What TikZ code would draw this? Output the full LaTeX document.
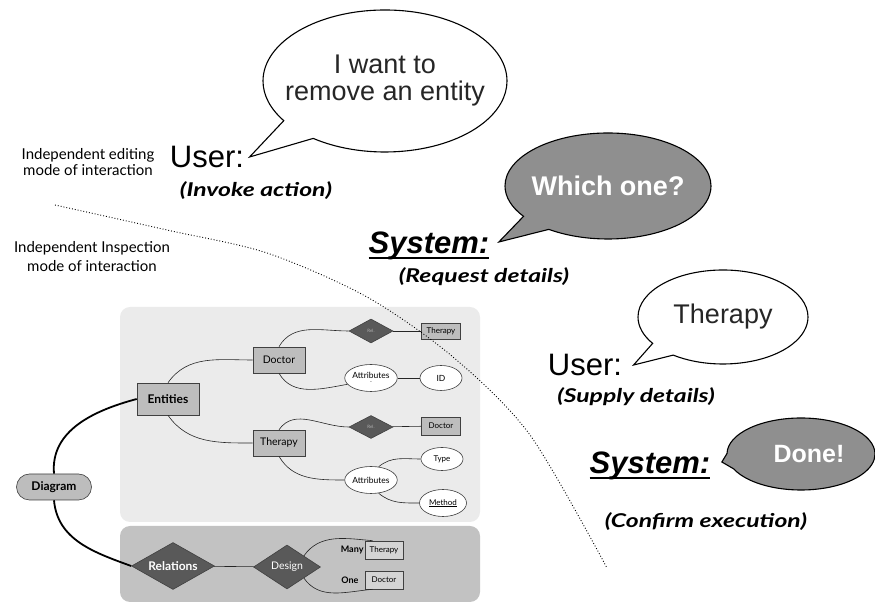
\documentclass[tikz,border=0pt]{standalone}
\usepackage{xcolor}
\usepackage{tikz}
\usepackage{fontspec}
\setmainfont{Lato}
\newfontfamily\helv{Liberation Sans}
\newfontfamily\notefont[FakeStretch=1.3]{Lato}
\usetikzlibrary{shapes.geometric, shapes.callouts, positioning}

% underline at a given depth and thickness
\newcommand{\lineunder}[3]{\setbox0\hbox{#3}\rlap{\rule[-#1]{\wd0}{#2}}\box0}

\begin{document}
\begin{tikzpicture}[x=1pt, y=1pt,
    entity/.style={draw=black!75, line width=0.6pt, rectangle, fill=black!26, inner sep=0pt},
    rel/.style={draw=black!75, line width=0.6pt, diamond, aspect=1.8, fill=black!65, inner sep=0pt},
    attr/.style={draw=black!75, line width=0.6pt, ellipse, fill=white, inner sep=0pt},
    bubble/.style={draw, line width=1.1pt, ellipse callout, inner sep=0pt, callout pointer arc=20},
    talk/.style={font=\helv\fontsize{31}{31}\selectfont},
    note/.style={font=\notefont\fontsize{19}{19}\selectfont\bfseries\itshape},
    side/.style={font=\fontsize{15}{16}\selectfont, align=center},
    link/.style={draw=black!85, line width=0.6pt},
    trunk/.style={draw=black, line width=1.8pt}]
    \useasboundingbox (0,0) rectangle (875,612);

    % Panels
    \fill[black!8, rounded corners=10pt] (120,90) rectangle (480,305);
    \fill[black!24, rounded corners=10pt] (120,10) rectangle (480,86);

    % Modes
    \node[side] (editmode) at (88,450) {Independent editing\\mode of interaction};
    \node[side, font=\fontsize{15}{19}\selectfont] (inspmode) at (92,355) {Independent Inspection\\mode of interaction};

    % User: invoke
    \node[talk] (user1) at (207,455) {User:};
    \node[note] (act1) at (256,421) {(Invoke action)};
    \node[bubble, fill=white, minimum width=244, minimum height=142, inner xsep=-16pt, align=center,
          font=\helv\fontsize{27}{27}\selectfont, text=black!85,
          callout absolute pointer={([xshift=2pt]user1.east)}] (say1) at (385,531) {I want to\\remove an entity};

    % System: request
    \node[talk, font=\helv\fontsize{31}{31}\selectfont\bfseries\itshape] (sys1) at (429,366) {\lineunder{5pt}{1.5pt}{System:}};
    \node[note] (act2) at (484,335) {(Request details)};
    \node[bubble, fill=black!44, minimum width=206, minimum height=106, inner xsep=-6pt,
          font=\helv\fontsize{27}{27}\selectfont\bfseries, text=white,
          callout absolute pointer={([xshift=6pt,yshift=4pt]sys1.east)}] (say2) at (608,426) {Which one?};

    % User: supply
    \node[talk] (user2) at (585,247) {User:};
    \node[note] (act3) at (636,215) {(Supply details)};
    \node[bubble, fill=white, minimum width=170, minimum height=94,
          font=\helv\fontsize{27}{27}\selectfont, text=black!85,
          callout absolute pointer={([xshift=8pt]user2.east)}] (say3) at (723,295) {Therapy};

    % System: confirm
    \node[talk, font=\helv\fontsize{31}{31}\selectfont\bfseries\itshape] (sys2) at (650,146) {\lineunder{5pt}{1.5pt}{System:}};
    \node[note] (act4) at (706,90) {(Confirm execution)};
    \node[bubble, fill=black!44, minimum width=148, minimum height=72,
          font=\helv\fontsize{25}{25}\selectfont\bfseries, text=white, callout pointer arc=25,
          callout absolute pointer={([xshift=8pt,yshift=4pt]sys2.east)}] (say4) at (801,158) {\hspace*{16pt}Done!};

    % Diagram tree
    \node[entity, rounded corners=13pt, minimum width=75, minimum height=26, font=\bfseries\fontsize{12}{12}\selectfont] (diagram) at (54,125) {Diagram};
    \node[entity, minimum width=62, minimum height=32, font=\bfseries\fontsize{12}{12}\selectfont] (entities) at (168,213) {Entities};
    \node[rel, minimum width=83, minimum height=47, text=white, font=\bfseries\fontsize{12}{12}\selectfont] (relations) at (173,46) {Relations};
    \draw[trunk] (diagram.north) to[out=95,in=195] (entities.west);
    \draw[trunk] (diagram.south) to[out=-85,in=160] (relations.west);

    % Doctor
    \node[entity, minimum width=52, minimum height=26, font=\fontsize{10.5}{10.5}\selectfont] (doctor) at (279,252) {Doctor};
    \node[rel, minimum width=44, minimum height=24, text=black!30, font=\fontsize{4.5}{4.5}\selectfont] (rel1) at (371,281) {Rel.};
    \node[entity, minimum width=39, minimum height=16, font=\fontsize{8}{8}\selectfont] (therapyS) at (441,281) {Therapy};
    \node[attr, minimum width=49, minimum height=27, align=center, font=\fontsize{8.5}{8.5}\selectfont] (attr1) at (371,234) {Attributes\\[-4pt]{\fontsize{5}{5}\selectfont -}};
    \node[attr, minimum width=42, minimum height=25, font=\fontsize{8.5}{8.5}\selectfont] (id) at (441,234) {ID};

    % Therapy
    \node[entity, minimum width=52, minimum height=26, font=\fontsize{10.5}{10.5}\selectfont] (therapy) at (279,169) {Therapy};
    \node[rel, minimum width=44, minimum height=23, text=black!30, font=\fontsize{4.5}{4.5}\selectfont] (rel2) at (371,185) {Rel.};
    \node[entity, minimum width=39, minimum height=18, font=\fontsize{8}{8}\selectfont] (doctorS) at (441,186) {Doctor};
    \node[attr, minimum width=49, minimum height=27, font=\fontsize{8.5}{8.5}\selectfont] (attr2) at (371,132) {Attributes};
    \node[attr, minimum width=42, minimum height=23, font=\fontsize{8}{8}\selectfont] (type) at (442,153) {Type};
    \node[attr, minimum width=47, minimum height=27, font=\fontsize{8}{8}\selectfont] (method) at (443,109) {\lineunder{1.6pt}{0.5pt}{Method}};

    \draw[link] (entities.north) to[out=55,in=180] (doctor.west);
    \draw[link] (entities.south) to[out=-55,in=180] (therapy.west);
    \draw[link] (doctor.north) to[out=60,in=180] (rel1.west);
    \draw[link] (doctor.south) to[out=-60,in=190] (attr1.195);
    \draw[link] (rel1) -- (therapyS);
    \draw[link] (attr1) -- (id);
    \draw[link] (therapy.north) to[out=55,in=180] (rel2.west);
    \draw[link] (therapy.south) to[out=-60,in=180] (attr2.west);
    \draw[link] (rel2) -- (doctorS);
    \draw[link] (attr2.60) to[out=40,in=180] (type.west);
    \draw[link] (attr2.-60) to[out=-40,in=180] (method.west);

    % Relations
    \node[rel, minimum width=67, minimum height=44, text=white, font=\fontsize{10.5}{10.5}\selectfont] (design) at (287,45) {Design};
    \node[entity, fill=black!17, minimum width=38, minimum height=18, font=\fontsize{8}{8}\selectfont] (manyT) at (384,62) {Therapy};
    \node[entity, fill=black!17, minimum width=38, minimum height=18, font=\fontsize{8}{8}\selectfont] (oneD) at (384,32) {Doctor};
    \node[left=1pt of manyT, inner sep=0pt, font=\bfseries\fontsize{9}{9}\selectfont] (many) {Many};
    \node[left=6pt of oneD, inner sep=0pt, font=\bfseries\fontsize{9}{9}\selectfont] (one) {One};
    \draw[link] (relations) -- (design);
    \draw[link] (design.north east) to[out=55,in=175] ([xshift=8pt]manyT.north west);
    \draw[link] (design.south east) to[out=-55,in=185] ([xshift=8pt]oneD.south west);

    % Mode border
    \draw[dotted, line width=0.9pt] plot[smooth] coordinates {(55,407) (167,382) (267,359) (367,315) (453,255) (530,177) (607,44)};
\end{tikzpicture}
\end{document}
